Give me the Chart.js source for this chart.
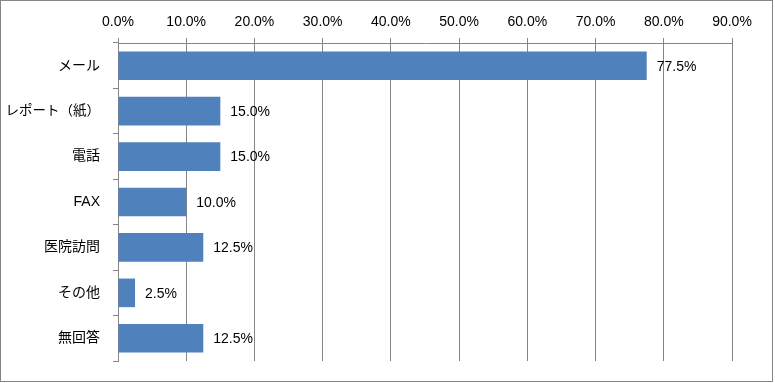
<!DOCTYPE html>
<html>
<head>
<meta charset="utf-8">
<script src="https://cdn.jsdelivr.net/npm/chart.js@4/dist/chart.umd.min.js"></script>
<style>
  html, body { margin: 0; padding: 0; background: #fff; }
  #wrap { position: relative; width: 775px; height: 383px; }
</style>
</head>
<body>
<div id="wrap"><canvas id="c" width="775" height="383"></canvas></div>
<script>
// survey answers, percent
const categories = ["メール", "レポート（紙）", "電話", "FAX", "医院訪問", "その他", "無回答"];
const values = [77.5, 15.0, 15.0, 10.0, 12.5, 2.5, 12.5];
const xTicks = [0, 10, 20, 30, 40, 50, 60, 70, 80, 90];

const FONT = "'Liberation Sans', 'Noto Sans CJK JP', sans-serif";
const GRID = "#868686";

// value labels to the right of each bar, plus the outer frame
const valueLabels = {
  id: "valueLabels",
  afterDatasetsDraw(chart) {
    const ctx = chart.ctx;
    const meta = chart.getDatasetMeta(0);
    ctx.save();
    ctx.font = "14px " + FONT;
    ctx.fillStyle = "#000";
    ctx.textAlign = "left";
    ctx.textBaseline = "middle";
    meta.data.forEach((bar, i) => {
      ctx.fillText(values[i].toFixed(1) + "%", bar.x + 10, bar.y + 1);
    });
    ctx.restore();
  },
  afterDraw(chart) {
    const ctx = chart.ctx;
    ctx.save();
    ctx.strokeStyle = GRID;
    ctx.lineWidth = 1;
    ctx.strokeRect(0.5, 0.5, 772, 381);
    ctx.restore();
  }
};

new Chart(document.getElementById("c"), {
  type: "bar",
  data: {
    labels: categories,
    datasets: [{
      data: values,
      backgroundColor: "#4F81BD",
      borderWidth: 0,
      barPercentage: 0.63,
      categoryPercentage: 1.0,
    }],
  },
  options: {
    indexAxis: "y",
    responsive: false,
    animation: false,
    layout: { padding: { left: 0, top: 0, right: 43, bottom: 22 } },
    plugins: { legend: { display: false }, tooltip: { enabled: false } },
    scales: {
      x: {
        position: "top",
        min: 0,
        max: 90,
        afterBuildTicks: (s) => { s.ticks = xTicks.map(v => ({ value: v })); },
        afterFit: (s) => { s.height = 43; },
        grid: { color: GRID, tickLength: 5, drawTicks: true },
        border: { color: GRID },
        ticks: {
          color: "#000",
          padding: 7,
          font: { family: FONT, size: 14 },
          callback: (v) => v.toFixed(1) + "%",
        },
      },
      y: {
        afterFit: (s) => { s.width = 118; },
        grid: { offset: true, drawOnChartArea: false, color: GRID, tickLength: 5 },
        border: { color: GRID },
        ticks: {
          color: "#000",
          padding: 13,
          font: (c) => ({ family: FONT, size: c.index === 1 ? 13.5 : 14 }),
        },
      },
    },
  },
  plugins: [valueLabels],
});
</script>
</body>
</html>
